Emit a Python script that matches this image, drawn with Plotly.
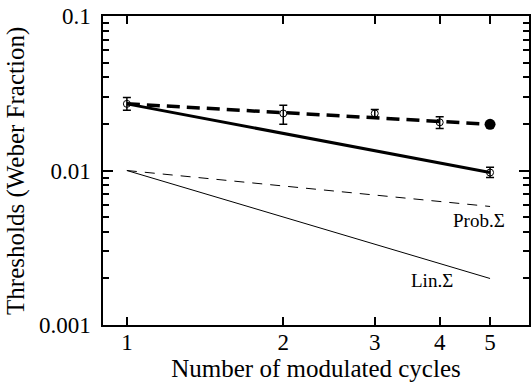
import plotly.graph_objects as go
import numpy as np

# data
obs_cycles = [1, 2, 3, 4, 5]
obs_thresh = [0.027, 0.0234, 0.0234, 0.0205, 0.0097]
obs_err_plus = [0.0027, 0.0030, 0.0014, 0.0018, 0.0008]
obs_err_minus = [0.0025, 0.0035, 0.0014, 0.0018, 0.0007]

solid_x = [1, 5]
solid_y = [0.027, 0.0097]
dashed_x = [1, 5]
dashed_y = [0.027, 0.0199]
filled_x = [5]
filled_y = [0.0199]

prob_x = [1, 5]
prob_y = [0.01, 0.00585]
lin_x = [1, 5]
lin_y = [0.01, 0.002]

x_ticks = [1, 2, 3, 4, 5]
y_ticks = [0.001, 0.01, 0.1]
y_ticklabels = ["0.001", "0.01", "0.1"]
y_minor = [m * 10.0 ** e for e in (-3, -2) for m in range(2, 10)]

FONT = "Liberation Serif"

fig = go.Figure()
fig.add_trace(go.Scatter(x=prob_x, y=prob_y, mode="lines",
                         line=dict(color="black", width=1, dash="10px,8px")))
fig.add_trace(go.Scatter(x=lin_x, y=lin_y, mode="lines",
                         line=dict(color="black", width=1)))
fig.add_trace(go.Scatter(x=solid_x, y=solid_y, mode="lines",
                         line=dict(color="black", width=3)))
fig.add_trace(go.Scatter(x=dashed_x, y=dashed_y, mode="lines",
                         line=dict(color="black", width=3.5, dash="13px,7px")))
fig.add_trace(go.Scatter(x=obs_cycles, y=obs_thresh, mode="markers",
                         marker=dict(symbol="circle-open", size=7, color="black",
                                     line=dict(width=1)),
                         error_y=dict(type="data", array=obs_err_plus,
                                      arrayminus=obs_err_minus, color="black",
                                      thickness=1.5, width=4)))
fig.add_trace(go.Scatter(x=filled_x, y=filled_y, mode="markers",
                         marker=dict(symbol="circle", size=11, color="black")))

fig.add_annotation(x=np.log10(4.77), y=np.log10(0.00474), text="Prob.Σ",
                   showarrow=False, font=dict(family=FONT, size=19, color="black"))
fig.add_annotation(x=np.log10(3.86), y=np.log10(0.00194), text="Lin.Σ",
                   showarrow=False, font=dict(family=FONT, size=19, color="black"))

L = 103
W = 531
plotw = W - L
fig.add_annotation(xref="paper", yref="paper", x=(15 - L) / plotw, y=0.5,
                   text="Thresholds (Weber Fraction)", textangle=-90,
                   showarrow=False, xanchor="center", yanchor="middle",
                   font=dict(family=FONT, size=25, color="black"))

px_per_dec = 522.0
x0 = -24 / px_per_dec
x1 = x0 + plotw / px_per_dec

fig.update_layout(
    width=531, height=388,
    margin=dict(l=L, r=0, t=16, b=63),
    paper_bgcolor="white", plot_bgcolor="white",
    showlegend=False,
    font=dict(family=FONT, size=23, color="black"),
    xaxis=dict(type="log", range=[x0, x1], tickvals=x_ticks,
               ticktext=[str(v) for v in x_ticks],
               ticks="inside", ticklen=8, tickwidth=1.5, tickcolor="black",
               showline=True, linecolor="black", linewidth=1.5,
               mirror="allticks", showgrid=False, zeroline=False,
               ticklabelstandoff=-4,
               title=dict(text="Number of modulated cycles", standoff=4,
                          font=dict(family=FONT, size=25))),
    yaxis=dict(type="log", range=[-3, -1], tickvals=y_ticks,
               ticktext=y_ticklabels,
               ticks="inside", ticklen=10, tickwidth=1.5, tickcolor="black",
               showline=True, linecolor="black", linewidth=1.5,
               mirror="ticks", showgrid=False, zeroline=False,
               ticklabelstandoff=6,
               minor=dict(tickmode="array", tickvals=y_minor, ticks="inside",
                          ticklen=6, tickwidth=1.5, tickcolor="black",
                          showgrid=False)),
)

fig.write_html("out.html")
